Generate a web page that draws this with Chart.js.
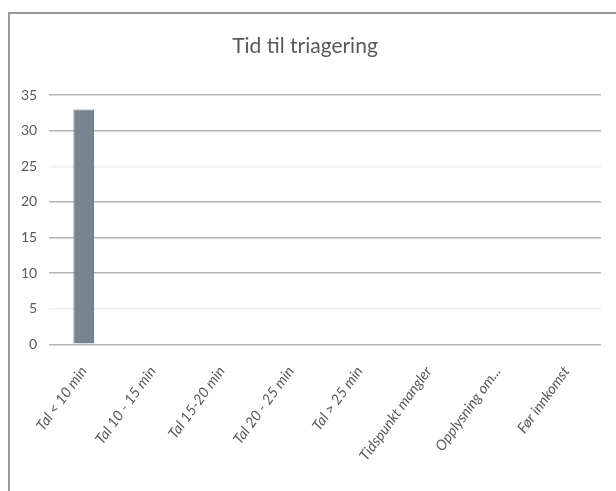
<!DOCTYPE html>
<html>
<head>
<meta charset="utf-8">
<script src="https://cdn.jsdelivr.net/npm/chart.js@4"></script>
<style>
  body { margin: 0; background: #fff; }
  #wrap { position: relative; width: 616px; height: 491px; }
  #frame { position: absolute; left: 8px; top: 12px; width: 620px; height: 500px;
           border-left: 2px solid #9a9a9a; border-top: 2px solid #9a9a9a; }
  canvas { position: absolute; left: 0; top: 0; }
</style>
</head>
<body>
<div id="wrap">
  <div id="frame"></div>
  <canvas id="chartCanvas" width="616" height="491"></canvas>
</div>
<script>
const categories = [
  "Tal < 10 min", "Tal 10 - 15 min", "Tal 15-20 min", "Tal 20 - 25 min",
  "Tal > 25 min", "Tidspunkt mangler", "Opplysning om...", "Før innkomst"
];
const counts = [33, 0, 0, 0, 0, 0, 0, 0];
const yTicks = [0, 5, 10, 15, 20, 25, 30, 35];

const font = "Lato, 'Open Sans', sans-serif";
const ctx = document.getElementById("chartCanvas").getContext("2d");

new Chart(ctx, {
  type: "bar",
  data: {
    labels: categories,
    datasets: [{
      label: "Antall",
      data: counts,
      backgroundColor: "#768391",
      borderColor: "#6a7684",
      borderWidth: 1,
      barPercentage: 0.3,
      categoryPercentage: 1
    }]
  },
  options: {
    responsive: false,
    animation: false,
    layout: { padding: { left: 9, right: 15, top: 0, bottom: 16 } },
    plugins: {
      legend: { display: false },
      tooltip: { enabled: false },
      title: {
        display: true,
        text: "Tid til triagering",
        color: "#595959",
        font: { family: font, size: 21, weight: "normal" },
        padding: { top: 34, bottom: 36 }
      }
    },
    scales: {
      x: {
        grid: { display: false },
        border: { display: false },
        ticks: {
          color: "#595959",
          font: { family: font, size: 14.5, style: "italic" },
          minRotation: 54,
          maxRotation: 54,
          padding: 11
        }
      },
      y: {
        min: 0,
        max: 35,
        afterBuildTicks: axis => { axis.ticks = yTicks.map(v => ({ value: v })); },
        border: { display: false },
        grid: {
          drawTicks: false,
          lineWidth: 1.5,
          color: c => (c.tick && (c.tick.value === 5 || c.tick.value === 25)) ? "#ececec" : "#b3b3b3"
        },
        ticks: {
          color: "#595959",
          font: { family: font, size: 14 },
          padding: 12
        }
      }
    }
  }
});
</script>
</body>
</html>
